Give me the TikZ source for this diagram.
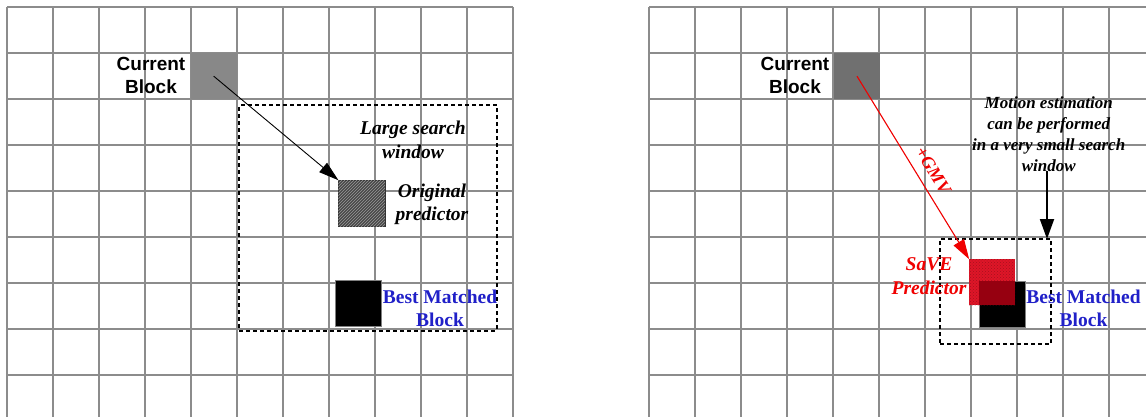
\documentclass[tikz,border=0pt]{standalone}
\usepackage{fontspec}
\setmainfont{Liberation Serif}
\setsansfont{Liberation Sans}
\usetikzlibrary{arrows.meta,patterns}
\definecolor{gridgray}{RGB}{140,140,140}
\definecolor{bluetxt}{RGB}{32,32,200}
\definecolor{redtxt}{RGB}{240,0,0}
\definecolor{savered}{RGB}{222,22,40}
\definecolor{overlapred}{RGB}{150,0,16}
\begin{document}
\begin{tikzpicture}[x=1pt,y=-1pt,
  gridline/.style={draw=gridgray,line width=1.3pt},
  blockbox/.style={draw=gray,line width=0.8pt,minimum size=46pt,inner sep=0pt,outer sep=0pt},
  winbox/.style={draw=black,line width=1.8pt,dash pattern=on 4pt off 3pt,inner sep=0pt,outer sep=0pt},
  cblabel/.style={font=\sffamily\bfseries\fontsize{19}{23}\selectfont,align=center,inner sep=0pt},
  itlabel/.style={font=\bfseries\itshape\fontsize{19.5}{23.5}\selectfont,align=center,inner sep=0pt},
  smalllabel/.style={font=\bfseries\itshape\fontsize{17}{21}\selectfont,align=center,inner sep=0pt},
  bluelabel/.style={font=\bfseries\fontsize{19.5}{23}\selectfont,text=bluetxt,align=center,inner sep=0pt},
  thinarrow/.style={draw=black,line width=0.9pt,-{Triangle[length=20pt,width=12pt]}},
  redarrow/.style={draw=redtxt,line width=1.1pt,-{Triangle[length=20pt,width=12pt]}},
  thickarrow/.style={draw=black,line width=2pt,-{Triangle[length=20pt,width=14pt]}}]
\useasboundingbox (0,0) rectangle (1146,417);
\fill[white] (0,0) rectangle (1146,417);
% left grid
\foreach \i in {0,...,11} \draw[gridline] ({7+46*\i},7) -- ({7+46*\i},417);
\foreach \j in {0,...,8} \draw[gridline] (7,{7+46*\j}) -- (513,{7+46*\j});
% right grid
\foreach \i in {0,...,10} \draw[gridline] ({649+46*\i},7) -- ({649+46*\i},417);
\foreach \j in {0,...,8} \draw[gridline] (649,{7+46*\j}) -- (1146,{7+46*\j});

% ---------- left panel ----------
\node[blockbox,fill={rgb,255:red,136;green,136;blue,136},draw=none] (curL) at (213.7,76.2) {};
\node[winbox,minimum width=257.4pt,minimum height=225.4pt] (bigwin) at (368,218) {};
\node[blockbox,draw=black!80,minimum size=46.5pt,fill={rgb,255:red,72;green,72;blue,72},
      postaction={pattern=north east lines,pattern color=gray!80}] (origL) at (361.7,203.5) {};
\node[blockbox,fill=black] (bestL) at (358.5,303.4) {};
\draw[thinarrow] (curL.center) -- (origL.north west);
\node[cblabel] (curLtxt) at (151,75.5) {Current\\Block};
\node[itlabel] (bigtxt) at (413,140) {Large search\\window};
\node[itlabel] (origtxt) at (432,204.5) {Original\\predictor};
\node[bluelabel] (bestLtxt) at (440,308.5) {Best Matched\\Block};

% ---------- right panel ----------
\node[blockbox,fill={rgb,255:red,112;green,112;blue,112},draw=none] (curR) at (857,76.2) {};
\node[winbox,minimum width=111pt,minimum height=105pt] (smallwin) at (995.5,291.5) {};
\node[blockbox,fill=black] (bestR) at (1002.2,304.2) {};
\node[blockbox,draw=none,fill=savered,
      postaction={pattern=crosshatch dots,pattern color=savered!75!black}] (saveP) at (992.2,282.3) {};
\fill[overlapred] (bestR.north west) rectangle (saveP.south east);
\draw[redarrow] (curR.center) -- node[sloped,above=9pt,pos=0.56,font=\bfseries\itshape\fontsize{18}{20}\selectfont,text=redtxt,inner sep=0pt] (gmv) {+GMV} (saveP.north west);
\node[cblabel] (curRtxt) at (795,75.5) {Current\\Block};
\node[smalllabel] (motion) at (1048.7,133.7) {Motion estimation\\can be performed\\in a very small search\\window};
\draw[thickarrow] (motion.south -| smallwin.north east) ++(-4,0) coordinate (mtop) -- (mtop |- smallwin.north);
\node[itlabel,text=redtxt] (savetxt) at (929,276) {SaVE\\Predictor};
\node[bluelabel] (bestRtxt) at (1083.5,308.5) {Best Matched\\Block};
\end{tikzpicture}
\end{document}
